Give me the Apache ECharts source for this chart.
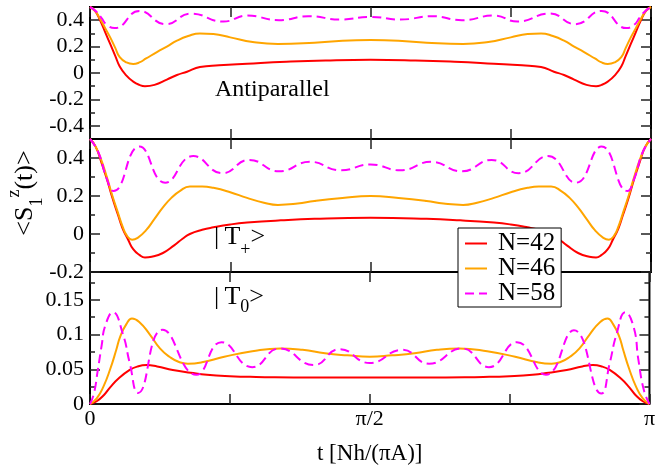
<!DOCTYPE html>
<html><head><meta charset="utf-8">
<script src="https://cdn.jsdelivr.net/npm/echarts@6/dist/echarts.min.js"></script>
<style>html,body{margin:0;padding:0;background:#fff}#c{width:658px;height:470px}</style>
</head><body><div id="c"></div>
<script>
// ---------- tick labels ----------
const xTickValues = [0, 0.5, 1];
const xTickLabels = ['0', 'π/2', 'π'];
const y1Ticks = [-0.4, -0.2, 0, 0.2, 0.4];
const y1Minor = [-0.3, -0.1, 0.1, 0.3];
const y2Ticks = [-0.2, 0, 0.2, 0.4];
const y2Minor = [-0.1, 0.1, 0.3];
const y3Ticks = [0, 0.05, 0.1, 0.15];
const y3Minor = [0.025, 0.075, 0.125, 0.175];
const seriesNames = ['N=42', 'N=46', 'N=58'];

// ---------- panel 1: Antiparallel (t in units of pi) ----------
const ap42T = [0, 0.009, 0.018, 0.027, 0.036, 0.045, 0.053, 0.065, 0.077, 0.088, 0.098, 0.115, 0.137, 0.155, 0.173, 0.196, 0.23, 0.28, 0.35, 0.42, 0.5, 0.58, 0.65, 0.72, 0.77, 0.804, 0.827, 0.845, 0.863, 0.885, 0.902, 0.912, 0.923, 0.935, 0.947, 0.955, 0.964, 0.973, 0.982, 0.991, 1];
const ap42V = [0.5, 0.47, 0.4, 0.31, 0.22, 0.13, 0.05, -0.02, -0.065, -0.09, -0.1, -0.09, -0.05, -0.015, 0.01, 0.045, 0.058, 0.07, 0.085, 0.095, 0.1, 0.095, 0.085, 0.07, 0.058, 0.045, 0.01, -0.015, -0.05, -0.09, -0.1, -0.09, -0.065, -0.02, 0.05, 0.13, 0.22, 0.31, 0.4, 0.47, 0.5];
const ap46T = [0, 0.009, 0.018, 0.027, 0.036, 0.045, 0.053, 0.065, 0.077, 0.088, 0.1, 0.12, 0.137, 0.155, 0.175, 0.196, 0.22, 0.25, 0.29, 0.335, 0.4, 0.45, 0.5, 0.55, 0.6, 0.665, 0.71, 0.75, 0.78, 0.804, 0.825, 0.845, 0.863, 0.88, 0.9, 0.912, 0.923, 0.935, 0.947, 0.955, 0.964, 0.973, 0.982, 0.991, 1];
const ap46V = [0.5, 0.47, 0.41, 0.34, 0.27, 0.19, 0.12, 0.08, 0.068, 0.08, 0.11, 0.16, 0.2, 0.245, 0.28, 0.3, 0.295, 0.27, 0.235, 0.22, 0.23, 0.245, 0.25, 0.245, 0.23, 0.22, 0.235, 0.27, 0.295, 0.3, 0.28, 0.245, 0.2, 0.16, 0.11, 0.08, 0.068, 0.08, 0.12, 0.19, 0.27, 0.34, 0.41, 0.47, 0.5];
const ap58T = [0, 0.01, 0.02, 0.03, 0.044, 0.088, 0.135, 0.18, 0.238, 0.28, 0.337, 0.389, 0.447, 0.5, 0.553, 0.611, 0.663, 0.72, 0.762, 0.82, 0.865, 0.912, 0.956, 0.97, 0.98, 0.99, 1];
const ap58V = [0.5, 0.47, 0.42, 0.365, 0.34, 0.47, 0.37, 0.45, 0.39, 0.435, 0.40, 0.43, 0.405, 0.425, 0.405, 0.43, 0.40, 0.435, 0.39, 0.45, 0.37, 0.47, 0.34, 0.365, 0.42, 0.47, 0.5];

// ---------- panel 2: |T+> ----------
const tp42T = [0, 0.01, 0.02, 0.03, 0.04, 0.05, 0.058, 0.068, 0.077, 0.088, 0.098, 0.11, 0.13, 0.15, 0.165, 0.178, 0.2, 0.22, 0.25, 0.28, 0.34, 0.4, 0.5, 0.6, 0.66, 0.72, 0.75, 0.78, 0.8, 0.822, 0.835, 0.85, 0.87, 0.89, 0.902, 0.912, 0.923, 0.932, 0.942, 0.95, 0.96, 0.97, 0.98, 0.99, 1];
const tp42V = [0.5, 0.46, 0.38, 0.29, 0.19, 0.1, 0.03, -0.03, -0.08, -0.11, -0.124, -0.12, -0.1, -0.06, -0.025, 0, 0.022, 0.035, 0.05, 0.06, 0.072, 0.08, 0.085, 0.08, 0.072, 0.06, 0.05, 0.035, 0.022, 0, -0.025, -0.06, -0.1, -0.12, -0.124, -0.11, -0.08, -0.03, 0.03, 0.1, 0.19, 0.29, 0.38, 0.46, 0.5];
const tp46T = [0, 0.01, 0.02, 0.03, 0.04, 0.05, 0.058, 0.066, 0.075, 0.085, 0.1, 0.115, 0.13, 0.145, 0.16, 0.178, 0.2, 0.22, 0.25, 0.28, 0.31, 0.335, 0.37, 0.4, 0.45, 0.5, 0.55, 0.6, 0.63, 0.665, 0.69, 0.72, 0.75, 0.78, 0.8, 0.822, 0.84, 0.855, 0.87, 0.885, 0.9, 0.915, 0.925, 0.934, 0.942, 0.95, 0.96, 0.97, 0.98, 0.99, 1];
const tp46V = [0.5, 0.46, 0.39, 0.3, 0.2, 0.11, 0.04, -0.01, -0.03, -0.02, 0.02, 0.08, 0.14, 0.19, 0.226, 0.25, 0.25, 0.243, 0.22, 0.19, 0.165, 0.153, 0.16, 0.174, 0.19, 0.2, 0.19, 0.174, 0.16, 0.153, 0.165, 0.19, 0.22, 0.243, 0.25, 0.25, 0.226, 0.19, 0.14, 0.08, 0.02, -0.02, -0.03, -0.01, 0.04, 0.11, 0.2, 0.3, 0.39, 0.46, 0.5];
const tp58T = [0, 0.015, 0.03, 0.042, 0.088, 0.134, 0.184, 0.236, 0.284, 0.337, 0.392, 0.447, 0.5, 0.553, 0.608, 0.663, 0.716, 0.764, 0.816, 0.866, 0.912, 0.958, 0.97, 0.985, 1];
const tp58V = [0.5, 0.43, 0.29, 0.226, 0.46, 0.27, 0.41, 0.32, 0.39, 0.33, 0.38, 0.335, 0.366, 0.335, 0.38, 0.33, 0.39, 0.32, 0.41, 0.27, 0.46, 0.226, 0.29, 0.43, 0.5];
// extremum numbering labels (panel 2)
const extLabels = ['1','2','3','4','5','6','7','8','9','10','11','12','13','14','15','16','17','18','19'];
const extLabelT = [0.04, 0.089, 0.136, 0.183, 0.236, 0.284, 0.337, 0.394, 0.45, 0.502, 0.558, 0.61, 0.664, 0.715, 0.771, 0.817, 0.872, 0.915, 0.961];
const extLabelV = [0.405, 0.3, 0.405, 0.3, 0.405, 0.3, 0.405, 0.3, 0.405, 0.3, 0.405, 0.3, 0.405, 0.3, 0.405, 0.3, 0.405, 0.3, 0.405];

// ---------- panel 3: |T0> ----------
const t042T = [0, 0.012, 0.025, 0.036, 0.05, 0.071, 0.085, 0.101, 0.12, 0.148, 0.18, 0.209, 0.25, 0.297, 0.4, 0.5, 0.6, 0.703, 0.75, 0.791, 0.82, 0.852, 0.88, 0.899, 0.915, 0.929, 0.95, 0.964, 0.975, 0.988, 1];
const t042V = [0, 0.004, 0.013, 0.024, 0.036, 0.049, 0.054, 0.056, 0.054, 0.049, 0.045, 0.042, 0.04, 0.039, 0.038, 0.038, 0.038, 0.039, 0.04, 0.042, 0.045, 0.049, 0.054, 0.056, 0.054, 0.049, 0.036, 0.024, 0.013, 0.004, 0];
const t046T = [0, 0.012, 0.024, 0.036, 0.047, 0.054, 0.065, 0.075, 0.088, 0.107, 0.125, 0.142, 0.16, 0.175, 0.2, 0.24, 0.29, 0.34, 0.38, 0.42, 0.46, 0.5, 0.54, 0.58, 0.62, 0.66, 0.71, 0.76, 0.8, 0.825, 0.84, 0.858, 0.875, 0.893, 0.912, 0.925, 0.935, 0.946, 0.953, 0.964, 0.976, 0.988, 1];
const t046V = [0, 0.008, 0.025, 0.05, 0.078, 0.097, 0.115, 0.123, 0.118, 0.1, 0.08, 0.068, 0.06, 0.058, 0.06, 0.068, 0.076, 0.08, 0.078, 0.073, 0.07, 0.068, 0.07, 0.073, 0.078, 0.08, 0.076, 0.068, 0.06, 0.058, 0.06, 0.068, 0.08, 0.1, 0.118, 0.123, 0.115, 0.097, 0.078, 0.05, 0.025, 0.008, 0];
const t058T = [0, 0.007, 0.014, 0.021, 0.027, 0.041, 0.059, 0.071, 0.086, 0.13, 0.19, 0.235, 0.29, 0.339, 0.4, 0.446, 0.5, 0.558, 0.606, 0.665, 0.713, 0.763, 0.815, 0.865, 0.914, 0.929, 0.941, 0.957, 0.972, 0.98, 0.99, 1];
const t058V = [0, 0.015, 0.049, 0.085, 0.112, 0.132, 0.1, 0.059, 0.016, 0.107, 0.042, 0.089, 0.053, 0.08, 0.056, 0.079, 0.059, 0.078, 0.058, 0.08, 0.053, 0.089, 0.042, 0.106, 0.015, 0.059, 0.1, 0.132, 0.11, 0.065, 0.02, 0];

// ---------- chart ----------
const F = '"Liberation Serif", "Times New Roman", serif';
const colors = ['#ff0000', '#ffa500', '#ff00ff'];
const tickStyle = {color: '#222', width: 1.5};
const gridBoxes = [
  {left: 90, right: 7, top: 7, height: 132},
  {left: 90, right: 7, top: 139, height: 133},
  {left: 90, right: 7, top: 272, height: 132}
];
const yRanges = [[-0.5, 0.5], [-0.2, 0.5], [0, 0.19]];
const yMajor = [y1Ticks, y2Ticks, y3Ticks];
const yMinorT = [y1Minor, y2Minor, y3Minor];

function pts(t, v) { return t.map((x, i) => [x, v[i]]); }

const grid = gridBoxes.map(g => Object.assign({show: true, borderColor: '#000', borderWidth: 2, backgroundColor: 'transparent'}, g));

const xAxis = [];
const yAxis = [];
for (let gi = 0; gi < 3; gi++) {
  ['bottom', 'top'].forEach(pos => {
    const ax = {
      type: 'value', gridIndex: gi, position: pos, min: 0, max: 1, interval: 0.25,
      axisLine: {show: false, onZero: false}, splitLine: {show: false},
      axisTick: {show: true, inside: true, length: 10, lineStyle: tickStyle},
      axisLabel: {show: false}
    };
    if (gi === 2 && pos === 'bottom') {
      ax.axisLabel = {show: true, customValues: xTickValues, margin: 4,
        formatter: v => xTickLabels[xTickValues.indexOf(v)] || '',
        fontFamily: F, fontSize: 22, color: '#000'};
      ax.name = 't [Nh/(πA)]';
      ax.nameLocation = 'middle';
      ax.nameGap = 38;
      ax.nameTextStyle = {fontFamily: F, fontSize: 23, color: '#000'};
    }
    xAxis.push(ax);
  });
  ['left', 'right'].forEach(pos => {
    [false, true].forEach(minor => {
      yAxis.push({
        type: 'value', gridIndex: gi, position: pos,
        min: yRanges[gi][0], max: yRanges[gi][1],
        axisLine: {show: false, onZero: false}, splitLine: {show: false},
        axisTick: {show: true, inside: true, length: minor ? 5 : 10,
          customValues: minor ? yMinorT[gi] : yMajor[gi], lineStyle: tickStyle},
        axisLabel: (pos === 'left' && !minor) ?
          {show: true, customValues: yMajor[gi], margin: 6, fontFamily: F, fontSize: 22, color: '#000'} :
          {show: false}
      });
    });
  });
}

function line(ci, gi, t, v) {
  return {
    name: seriesNames[ci], type: 'line', xAxisIndex: 2 * gi, yAxisIndex: 4 * gi,
    data: pts(t, v), smooth: true, symbol: 'none', silent: true,
    lineStyle: {color: colors[ci], width: 2, type: ci === 2 ? [9, 5] : 'solid'},
    itemStyle: {color: colors[ci]}, z: 2
  };
}

const series = [
  line(0, 0, ap42T, ap42V), line(1, 0, ap46T, ap46V), line(2, 0, ap58T, ap58V),
  line(0, 1, tp42T, tp42V), line(1, 1, tp46T, tp46V), line(2, 1, tp58T, tp58V),
  line(0, 2, t042T, t042V), line(1, 2, t046T, t046V), line(2, 2, t058T, t058V),
  {
    type: 'scatter', xAxisIndex: 2, yAxisIndex: 4, symbolSize: 1, silent: true,
    itemStyle: {opacity: 0}, z: 3,
    data: extLabelT.map((t, k) => ({name: extLabels[k], value: [t, extLabelV[k]]})),
    label: {show: true, position: 'inside', formatter: '{b}', fontFamily: F, fontSize: 23, color: '#ff00ff'}
  }
];

const option = {
  animation: false,
  backgroundColor: '#fff',
  grid, xAxis, yAxis, series,
  legend: {
    data: seriesNames, orient: 'vertical', left: 458, top: 228,
    padding: [3, 6, 1, 6], itemGap: 0, itemWidth: 22, itemHeight: 14,
    itemStyle: {opacity: 0},
    backgroundColor: '#fff', borderColor: '#000', borderWidth: 1, borderRadius: 0,
    selectedMode: false, z: 10,
    textStyle: {fontFamily: F, fontSize: 25, color: '#000', lineHeight: 23.5, padding: [0, 0, 0, 6]}
  },
  graphic: [
    {type: 'text', x: 215, y: 89.5, z: 5, silent: true,
      style: {text: 'Antiparallel', fontFamily: F, fontSize: 24, fill: '#000', verticalAlign: 'middle'}},
    {type: 'text', x: 214, y: 237.5, z: 5, silent: true,
      style: {text: '{a||\u2009T}{s|+}{a|>}', verticalAlign: 'middle', fill: '#000',
        rich: {a: {fontFamily: F, fontSize: 26, lineHeight: 44, color: '#000'},
               s: {fontFamily: F, fontSize: 18, lineHeight: 18, verticalAlign: 'bottom', color: '#000'}}}},
    {type: 'text', x: 214, y: 297.5, z: 5, silent: true,
      style: {text: '{a||\u2009T}{s|0}{a|>}', verticalAlign: 'middle', fill: '#000',
        rich: {a: {fontFamily: F, fontSize: 26, lineHeight: 38, color: '#000'},
               s: {fontFamily: F, fontSize: 18, lineHeight: 18, verticalAlign: 'bottom', color: '#000'}}}},
    {type: 'text', x: 25.5, y: 193, rotation: Math.PI / 2, z: 5, silent: true,
      style: {text: '{a|<S}{b|1}{c|z}{a|(t)>}', align: 'center', verticalAlign: 'middle', fill: '#000',
        rich: {a: {fontFamily: F, fontSize: 26, lineHeight: 41, color: '#000'},
               b: {fontFamily: F, fontSize: 18, lineHeight: 18, verticalAlign: 'bottom', color: '#000'},
               c: {fontFamily: F, fontSize: 18, lineHeight: 18, verticalAlign: 'top', color: '#000'}}}}
  ]
};

const chart = echarts.init(document.getElementById('c'));
chart.setOption(option);
</script></body></html>
